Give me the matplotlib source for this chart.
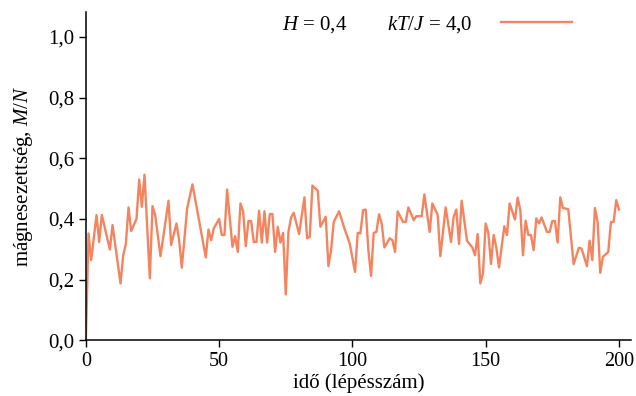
import matplotlib
matplotlib.use('Agg')
import matplotlib.pyplot as plt
from matplotlib.ticker import FuncFormatter

# idő (lépésszám) és mágnesezettség
steps = [0, 1, 2, 4, 5, 6, 9, 10, 13, 14, 15, 16, 17, 19, 20, 21, 22, 24, 25, 26,
         28, 31, 32, 34, 35, 36, 38, 40, 45, 46, 47, 48, 50,
         51, 52, 53, 55, 56, 57, 58, 59, 60, 61, 62, 63, 64, 65, 66, 67, 68, 69,
         70, 71, 72, 73, 74, 75, 76, 77, 78, 80, 82, 83, 84, 85, 87, 88, 90, 91,
         92, 93, 95, 97, 99, 101, 102, 103, 104, 105, 106, 107, 108, 109, 110,
         111, 112, 114, 115, 116, 117, 119, 120, 121, 123, 124, 126, 127, 129,
         130, 132, 133, 135, 137, 138, 139, 140, 141, 143, 145, 146, 147, 148,
         149, 150, 151, 152, 153, 154, 155, 157, 158, 159, 161, 162, 163, 164,
         165, 166, 167, 168, 169, 170, 171, 173, 174, 175, 176, 177, 178, 179,
         181, 183, 185, 186, 188, 189, 190, 191, 192, 193, 194, 196, 197, 198,
         199, 200]
magn = [0.0, 0.352, 0.264, 0.413, 0.324, 0.413, 0.299, 0.380, 0.187, 0.280,
        0.317, 0.438, 0.360, 0.400, 0.530, 0.440, 0.546, 0.204, 0.442, 0.413,
        0.277, 0.460, 0.314, 0.385, 0.330, 0.239, 0.435, 0.514, 0.273, 0.365,
        0.330, 0.369, 0.400,
        0.347, 0.347, 0.497, 0.308, 0.343, 0.291, 0.451, 0.425, 0.310, 0.393,
        0.393, 0.324, 0.324, 0.427, 0.322, 0.425, 0.322, 0.416, 0.416, 0.291,
        0.374, 0.322, 0.354, 0.151, 0.357, 0.405, 0.420, 0.350, 0.471, 0.336,
        0.341, 0.510, 0.493, 0.374, 0.407, 0.244, 0.297, 0.390, 0.425, 0.369,
        0.319, 0.225, 0.354, 0.352, 0.429, 0.431, 0.297, 0.212, 0.354, 0.357,
        0.415, 0.385, 0.306, 0.336, 0.330, 0.291, 0.425, 0.390, 0.390, 0.438,
        0.396, 0.409, 0.409, 0.481, 0.357, 0.451, 0.413, 0.277, 0.438, 0.324,
        0.407, 0.431, 0.317, 0.460, 0.328, 0.306, 0.280, 0.350, 0.187, 0.220,
        0.385, 0.354, 0.251, 0.347, 0.306, 0.240, 0.376, 0.347, 0.451, 0.398,
        0.470, 0.429, 0.280, 0.394, 0.347, 0.347, 0.297, 0.402, 0.385, 0.405,
        0.357, 0.357, 0.393, 0.393, 0.322, 0.471, 0.436, 0.432, 0.251, 0.305,
        0.302, 0.244, 0.328, 0.264, 0.436, 0.390, 0.222, 0.275, 0.291, 0.390,
        0.390, 0.462, 0.431]
x_ticks = [0, 50, 100, 150, 200]
y_ticks = [0.0, 0.2, 0.4, 0.6, 0.8, 1.0]

plt.rcParams['font.family'] = ['Liberation Serif', 'DejaVu Serif']
plt.rcParams['mathtext.fontset'] = 'custom'
plt.rcParams['mathtext.rm'] = 'Liberation Serif'
plt.rcParams['mathtext.it'] = 'Liberation Serif:italic'

fig = plt.figure(figsize=(6.36, 3.96), dpi=100)
ax = fig.add_axes([0.135, 0.141, 0.857, 0.829])

line, = ax.plot(steps, magn, color='#f4845f', lw=1.7, label=r'$kT/J$ = 4,0')

ax.set_xlim(0, 204.5)
ax.set_ylim(0, 1.083)
ax.set_xticks(x_ticks)
ax.set_yticks(y_ticks)
ax.yaxis.set_major_formatter(FuncFormatter(lambda v, p: f'{v:.1f}'.replace('.', ',')))
ax.tick_params(direction='out', length=5, width=1, labelsize=15, colors='black')
ax.tick_params(axis='x', labelsize=14.5)
for s in ['top', 'right']:
    ax.spines[s].set_visible(False)
for s in ['left', 'bottom']:
    ax.spines[s].set_linewidth(1.1)

ax.set_xlabel('idő (lépésszám)', fontsize=15, labelpad=2)
ax.set_ylabel(r'mágnesezettség, $M/N$', fontsize=15, labelpad=9)

ax.text(0.359, 0.962, r'$H$ = 0,4', transform=ax.transAxes, fontsize=15,
        ha='left', va='center')
ax.legend(handles=[line], loc='upper left', bbox_to_anchor=(0.518, 1.05),
          frameon=False, markerfirst=False, fontsize=15, handlelength=3.4,
          handletextpad=1.4)

fig.savefig('out.png', dpi=100)
